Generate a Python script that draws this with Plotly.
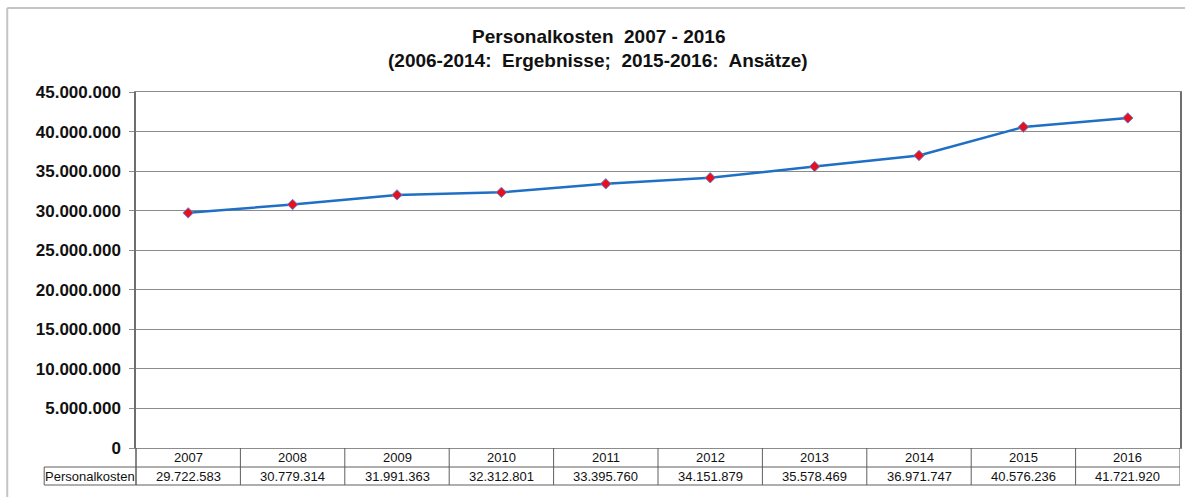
import plotly.graph_objects as go

years = ["2007", "2008", "2009", "2010", "2011", "2012", "2013", "2014", "2015", "2016"]
personalkosten = [29722583, 30779314, 31991363, 32312801, 33395760, 34151879,
                  35578469, 36971747, 40576236, 41721920]
table_values = ["29.722.583", "30.779.314", "31.991.363", "32.312.801", "33.395.760",
                "34.151.879", "35.578.469", "36.971.747", "40.576.236", "41.721.920"]
row_label = "Personalkosten"
title_lines = ["Personalkosten  2007 - 2016", "(2006-2014:  Ergebnisse;  2015-2016:  Ansätze)"]

W, H = 1185, 497
L, R, T, B = 136, 1182, 92, 448
pw, ph = R - L, B - T

def px_x(x):
    return (x - L) / pw

def px_y(y):
    return (B - y) / ph

xs = list(range(len(years)))
fig = go.Figure()
fig.add_trace(go.Scatter(
    x=xs, y=personalkosten, mode="lines+markers",
    line=dict(color="#1f6fc4", width=2.5),
    marker=dict(symbol="diamond", size=8, color="#e8101e",
                line=dict(color="#5a8ad6", width=1)),
    showlegend=False, hoverinfo="skip", cliponaxis=False))

grid = "#8c8c8c"
shapes = []
annotations = []

# outer frame (left + top)
fx = px_x(7)
fy = px_y(8)
shapes.append(dict(type="line", xref="paper", yref="paper", x0=fx, x1=fx, y0=px_y(H + 20), y1=fy,
                   line=dict(color="#c4c4c4", width=2)))
shapes.append(dict(type="line", xref="paper", yref="paper", x0=fx, x1=px_x(W + 20), y0=fy, y1=fy,
                   line=dict(color="#c4c4c4", width=2)))

# table
r1 = px_y(467)
r2 = px_y(485)
tl = px_x(44)
tc = "#5e5e5e"
tfont = dict(family="Arial", size=13, color="#111")
shapes.append(dict(type="line", xref="paper", yref="paper", x0=tl, x1=1, y0=r1, y1=r1, line=dict(color=tc, width=1)))
shapes.append(dict(type="line", xref="paper", yref="paper", x0=tl, x1=1, y0=r2, y1=r2, line=dict(color=tc, width=1)))
shapes.append(dict(type="line", xref="paper", yref="paper", x0=tl, x1=tl, y0=r2, y1=r1, line=dict(color=tc, width=1)))
shapes.append(dict(type="line", xref="paper", yref="paper", x0=0, x1=0, y0=r2, y1=0, line=dict(color=tc, width=1.5)))
for i in range(len(years)):
    shapes.append(dict(type="line", xref="x", yref="paper", x0=i + 0.5, x1=i + 0.5, y0=r2, y1=0,
                       line=dict(color=tc, width=1)))
    annotations.append(dict(x=i, y=(0 + r1) / 2, xref="x", yref="paper", text=years[i],
                            showarrow=False, font=tfont, xanchor="center", yanchor="middle"))
    annotations.append(dict(x=i, y=(r1 + r2) / 2, xref="x", yref="paper", text=table_values[i],
                            showarrow=False, font=tfont, xanchor="center", yanchor="middle"))
annotations.append(dict(x=(tl + 0) / 2, y=(r1 + r2) / 2, xref="paper", yref="paper", text=row_label,
                        showarrow=False, font=tfont, xanchor="center", yanchor="middle"))

# title
tfont_title = dict(family="Arial", size=19, color="#111")
annotations.append(dict(x=px_x(599), y=px_y(37), xref="paper", yref="paper",
                        text="<b>" + title_lines[0] + "</b>", showarrow=False,
                        font=tfont_title, xanchor="center", yanchor="middle"))
annotations.append(dict(x=px_x(599), y=px_y(60), xref="paper", yref="paper",
                        text="<b>" + title_lines[1] + "</b>", showarrow=False,
                        font=tfont_title, xanchor="center", yanchor="middle"))

fig.update_layout(
    width=W, height=H, autosize=False,
    margin=dict(l=L, r=W - R, t=T, b=H - B, pad=0),
    paper_bgcolor="white", plot_bgcolor="white",
    separators=",.",
    shapes=shapes, annotations=annotations,
    xaxis=dict(range=[-0.5, len(years) - 0.5], showticklabels=False, showgrid=False,
               zeroline=False, showline=True, linecolor=grid, linewidth=1, mirror=True,
               ticks=""),
    yaxis=dict(range=[0, 45000000], dtick=5000000, tickformat=",d",
               showgrid=True, gridcolor=grid, gridwidth=1, zeroline=False,
               showline=True, linecolor="#6e6e6e", linewidth=1.5, mirror=True,
               ticks="outside", ticklen=5, tickcolor=grid, ticklabelstandoff=5,
               tickfont=dict(family="Arial", size=17, color="#111", weight="bold")),
)
fig.write_html("out.html", config={"displayModeBar": False},
               post_script="document.body.style.margin='0';document.body.style.overflow='hidden';")
